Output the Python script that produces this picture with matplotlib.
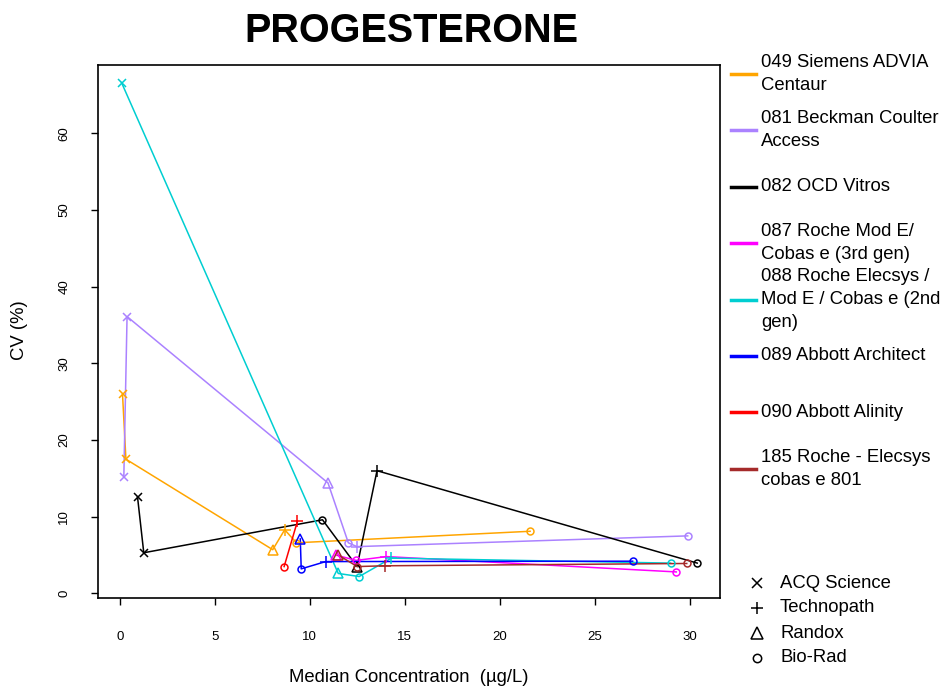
import matplotlib.pyplot as plt
from matplotlib.lines import Line2D

plt.rcParams['font.family'] = ['Liberation Sans', 'DejaVu Sans']

# instruments (legend order) and their colours
instruments = [
    "049 Siemens ADVIA\nCentaur",
    "081 Beckman Coulter\nAccess",
    "082 OCD Vitros",
    "087 Roche Mod E/\nCobas e (3rd gen)",
    "088 Roche Elecsys /\nMod E / Cobas e (2nd\ngen)",
    "089 Abbott Architect",
    "090 Abbott Alinity",
    "185 Roche - Elecsys\ncobas e 801",
]
colors = ["#FFA500", "#AB82FF", "#000000", "#FF00FF",
          "#00CED1", "#0000FF", "#FF0000", "#A52A2A"]

# median concentration (ug/L), CV (%) and QC material per point
# material codes: A = ACQ Science, T = Technopath, R = Randox, B = Bio-Rad
conc = [
    [0.14, 0.32, 8.05, 8.68, 9.3, 21.6],
    [0.21, 0.38, 10.96, 12.03, 12.48, 29.9],
    [0.93, 1.26, 10.67, 12.49, 13.54, 30.4],
    [11.37, 12.45, 14.03, 29.3],
    [0.09, 11.5, 12.6, 14.3, 29.0],
    [9.5, 9.55, 10.84, 27.0],
    [8.65, 9.35],
    [11.5, 12.5, 13.95, 29.85],
]
cv = [
    [26.0, 17.5, 5.7, 8.3, 6.6, 8.1],
    [15.2, 36.1, 14.4, 6.6, 6.1, 7.5],
    [12.6, 5.3, 9.6, 3.5, 16.0, 3.95],
    [5.0, 4.3, 4.8, 2.8],
    [66.6, 2.6, 2.2, 4.6, 3.95],
    [7.1, 3.2, 4.15, 4.2],
    [3.5, 9.4],
    [5.0, 3.5, 3.6, 3.9],
]
material = [
    ["A", "A", "R", "T", "B", "B"],
    ["A", "A", "R", "B", "T", "B"],
    ["A", "A", "B", "R", "T", "B"],
    ["R", "B", "T", "B"],
    ["A", "R", "B", "T", "B"],
    ["R", "B", "T", "B"],
    ["B", "T"],
    ["R", "B", "T", "B"],
]
material_names = ["ACQ Science", "Technopath", "Randox", "Bio-Rad"]
material_codes = ["A", "T", "R", "B"]
markers = {"A": "x", "T": "+", "R": "^", "B": "o"}
msizes = {"A": 6, "T": 8, "R": 7, "B": 5}

W, H = 947, 688
fig = plt.figure(figsize=(W / 100, H / 100), dpi=100)
ax = fig.add_axes([98 / W, 1 - 598 / H, (720 - 98) / W, (598 - 65) / H])

for xs, ys, mats, col in zip(conc, cv, material, colors):
    ax.plot(xs, ys, color=col, lw=1.1, zorder=2)
    for code in material_codes:
        px = [x for x, m in zip(xs, mats) if m == code]
        py = [y for y, m in zip(ys, mats) if m == code]
        if px:
            ax.plot(px, py, linestyle="none", marker=markers[code],
                    markersize=msizes[code], markerfacecolor="none",
                    markeredgecolor=col, markeredgewidth=1.1, zorder=3)

ax.set_xlim(-1.15, 31.6)
ax.set_ylim(-0.6, 68.9)
ax.set_xticks(range(0, 31, 5))
ax.set_yticks(range(0, 61, 10))
ax.tick_params(axis="x", direction="out", length=5, width=1, labelsize=9.5, pad=19)
ax.tick_params(axis="y", direction="out", length=5, width=1, labelsize=9.5, pad=15,
               labelrotation=90)
for lbl in ax.get_yticklabels():
    lbl.set_verticalalignment("center")
for sp in ax.spines.values():
    sp.set_linewidth(1.2)

fig.text(411 / W, 1 - 31 / H, "PROGESTERONE", ha="center", va="center",
         fontsize=28.5, fontweight="bold")
fig.text(409 / W, 1 - 678 / H, "Median Concentration  (\u00b5g/L)",
         ha="center", va="center", fontsize=13.3)
fig.text(20 / W, 1 - 330 / H, "CV (%)", ha="center", va="center",
         rotation=90, fontsize=13.3)

# instrument legend
for i, (name, col) in enumerate(zip(instruments, colors)):
    y = 1 - (74 + i * 56.4) / H
    fig.add_artist(Line2D([731 / W, 756 / W], [y, y], color=col, lw=2.5,
                          transform=fig.transFigure))
    fig.text(761 / W, y, name, ha="left", va="center", fontsize=13.3,
             linespacing=1.45)

# QC material legend
for i, (name, code) in enumerate(zip(material_names, material_codes)):
    y = 1 - (583 + i * 25) / H
    fig.add_artist(Line2D([757 / W], [y], linestyle="none", marker=markers[code],
                          markersize=msizes[code] + 1, markerfacecolor="none",
                          markeredgecolor="black", markeredgewidth=1.1,
                          transform=fig.transFigure))
    fig.text(780 / W, y, name, ha="left", va="center", fontsize=13.3)

fig.savefig("out.png", dpi=100)
